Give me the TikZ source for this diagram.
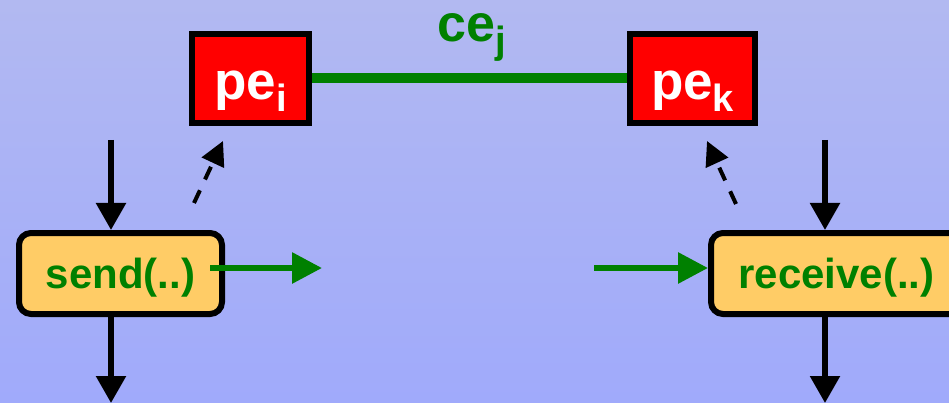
\documentclass[tikz,border=0pt]{standalone}
\usepackage{fontspec}
\setmainfont{Liberation Sans}
\usetikzlibrary{arrows.meta,positioning,calc}
\definecolor{bgtop}{HTML}{B2B9F1}
\definecolor{bgbot}{HTML}{A0AAFB}
\definecolor{chgreen}{HTML}{008000}
\definecolor{callfill}{HTML}{FFCC66}
\tikzset{
  pebox/.style   = {draw, line width=6pt, fill=red, rectangle, minimum height=89pt,
                    text=white, font=\bfseries\fontsize{53}{53}\selectfont,
                    text height=43pt, text depth=0pt},
  callbox/.style = {draw, line width=6pt, fill=callfill, rounded corners=12pt,
                    minimum height=81pt, text=chgreen,
                    font=\bfseries\fontsize{42}{42}\selectfont,
                    text height=29pt, text depth=0pt},
  flow/.style    = {-{Triangle[length=27pt,width=29pt]}, line width=5.5pt},
  msg/.style     = {-{Triangle[length=30pt,width=30pt]}, line width=6pt, chgreen},
  uses/.style    = {-{Triangle[length=24pt,width=24pt]}, line width=4pt,
                    dash pattern=on 14pt off 12pt},
}
\newcommand{\lowidx}[1]{\raisebox{-12pt}{\fontsize{38}{38}\selectfont #1}}

\begin{document}
\begin{tikzpicture}[x=1pt,y=-1pt]
% ---- background ----
\fill[top color=bgtop,bottom color=bgbot] (0,0) rectangle (949,403);
\useasboundingbox (0,0) rectangle (949,403);
% ---- processing elements and the channel ----
\node[pebox,minimum width=117pt] (pei) at (250.5,78.5) {pe\lowidx{i}};
\node[pebox,minimum width=125pt] (pek) at (692.5,78.5) {pe\lowidx{k}};
\draw[chgreen,line width=10pt] (pei.east) -- (pek.west);
\node[anchor=base,text=chgreen,font=\bfseries\fontsize{52}{52}\selectfont]
  (cej) at (472,42) {ce\lowidx{j}};
% ---- send side ----
\node[callbox,minimum width=203pt] (send) at (120.5,273.5) {send(..)};
\coordinate (sendin)  at (111,140);
\coordinate (sendout) at (111,403);
\draw[flow] (sendin) -- (sendin |- send.north);
\draw[flow] (sendin |- send.south) -- (sendout);
\coordinate (sendfrom) at (194,203);
\coordinate (sendto)   at (223,141);
\draw[uses] (sendfrom) -- (sendto);
\coordinate (msgout) at (210,268);
\coordinate (msgend) at (322,268);
\draw[msg] (msgout) -- (msgend);
% ---- receive side ----
\node[callbox,minimum width=251pt] (recv) at (836.5,273.5) {receive(..)};
\coordinate (recvin)  at (825,140);
\coordinate (recvout) at (825,403);
\draw[flow] (recvin) -- (recvin |- recv.north);
\draw[flow] (recvin |- recv.south) -- (recvout);
\coordinate (recvfrom) at (736,204);
\coordinate (recvto)   at (707,141);
\draw[uses] (recvfrom) -- (recvto);
\coordinate (msgin) at (594,268);
\draw[msg] (msgin) -- (msgin -| recv.west);
\end{tikzpicture}
\end{document}
